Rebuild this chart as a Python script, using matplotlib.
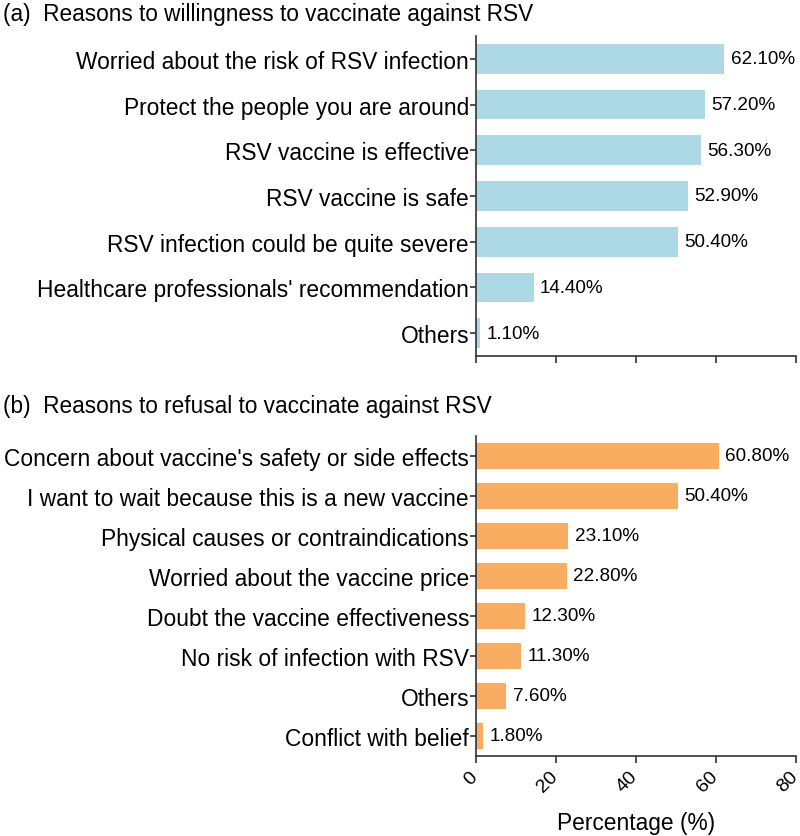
import matplotlib
matplotlib.use("Agg")
import matplotlib.pyplot as plt
import matplotlib.transforms as mtransforms

plt.rcParams['font.family'] = ['Liberation Sans', 'DejaVu Sans']

# panel (a) data
yes_reasons = ["Worried about the risk of RSV infection",
               "Protect the people you are around",
               "RSV vaccine is effective",
               "RSV vaccine is safe",
               "RSV infection could be quite severe",
               "Healthcare professionals' recommendation",
               "Others"]
yes_pct = [62.1, 57.2, 56.3, 52.9, 50.4, 14.4, 1.1]

# panel (b) data
no_reasons = ["Concern about vaccine's safety or side effects",
              "I want to wait because this is a new vaccine",
              "Physical causes or contraindications",
              "Worried about the vaccine price",
              "Doubt the vaccine effectiveness",
              "No risk of infection with RSV",
              "Others",
              "Conflict with belief"]
no_pct = [60.8, 50.4, 23.1, 22.8, 12.3, 11.3, 7.6, 1.8]

x_ticks = [0, 20, 40, 60, 80]

fig = plt.figure(figsize=(8, 8.37), dpi=100)
ax1 = fig.add_axes([0.595, 0.5735, 0.4, 0.3823])
ax2 = fig.add_axes([0.595, 0.0956, 0.4, 0.3823])


def draw_panel(ax, labels, vals, color, show_xlabels):
    pos = list(range(len(labels)))
    ax.barh(pos, vals, height=0.65, color=color, edgecolor='none')
    for p, v in zip(pos, vals):
        ax.annotate(f"{v:.2f}%", (v, p), xytext=(4.5, 0), textcoords='offset points',
                    va='center', ha='left', fontsize=13.6)
    ax.set_yticks(pos)
    ax.set_yticklabels(labels, fontsize=16.4)
    ax.set_ylim(len(labels) - 0.5, -0.5)
    ax.set_xlim(0, 80)
    ax.set_xticks(x_ticks)
    for s in ['top', 'right']:
        ax.spines[s].set_visible(False)
    for s in ['left', 'bottom']:
        ax.spines[s].set_color('#333333')
        ax.spines[s].set_linewidth(1.2)
    ax.tick_params(axis='y', length=4, width=1.2, color='#333333', pad=1)
    ax.tick_params(axis='x', length=5, width=1.2, color='#333333')
    if show_xlabels:
        ax.set_xticklabels([str(t) for t in x_ticks], rotation=45, fontsize=14,
                           ha='right', va='top', rotation_mode='anchor')
        # nudge rotated labels a bit left so the last one stays inside the figure
        shift = mtransforms.ScaledTranslation(-5 / 72, 0, fig.dpi_scale_trans)
        for lbl in ax.get_xticklabels():
            lbl.set_transform(lbl.get_transform() + shift)
        ax.set_xlabel("Percentage (%)", fontsize=16.4, labelpad=11)
    else:
        ax.set_xticklabels([])


draw_panel(ax1, yes_reasons, yes_pct, '#ADD8E6', False)
draw_panel(ax2, no_reasons, no_pct, '#F9AD61', True)

fig.text(0.004, 1 - 14 / 837, "(a)  Reasons to willingness to vaccinate against RSV",
         fontsize=16.3, va='center', ha='left')
fig.text(0.004, 1 - 407 / 837, "(b)  Reasons to refusal to vaccinate against RSV",
         fontsize=16.3, va='center', ha='left')

fig.savefig("out.png", dpi=100)
